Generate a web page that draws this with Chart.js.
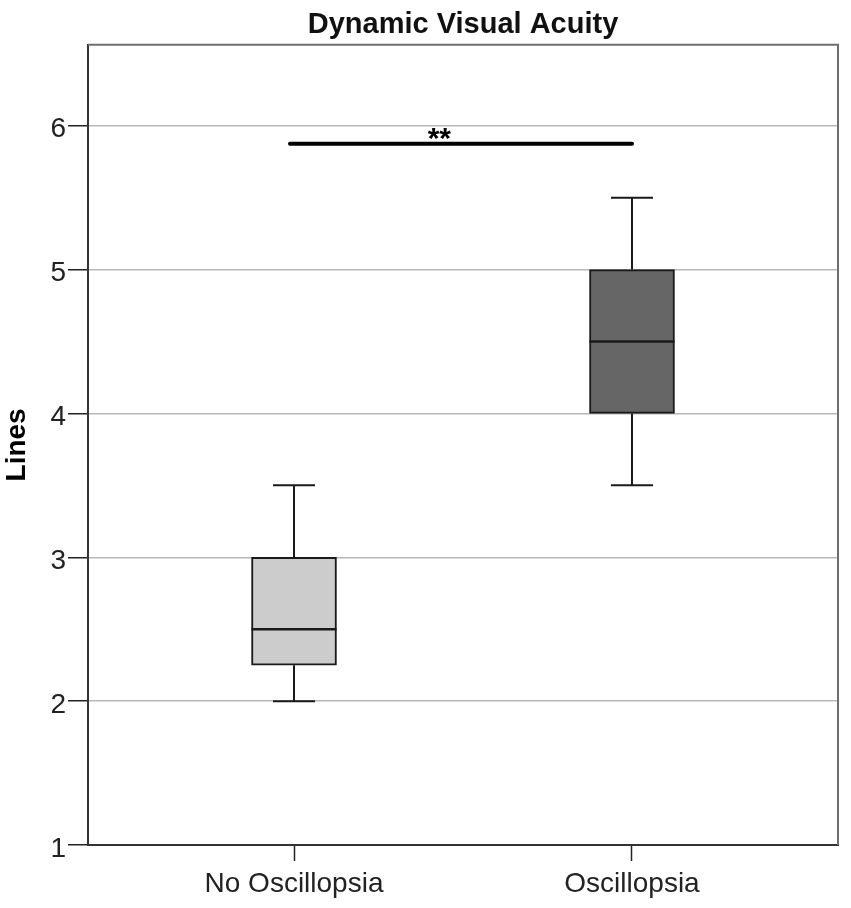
<!DOCTYPE html>
<html>
<head>
<meta charset="utf-8">
<title>Dynamic Visual Acuity</title>
<script src="https://cdn.jsdelivr.net/npm/chart.js@4"></script>
<style>
  body { margin: 0; background: #fff; }
  #wrap { width: 851px; height: 908px; }
</style>
</head>
<body>
<div id="wrap"><canvas id="boxChart"></canvas></div>
<script>
// Box plot values
const groups = ['No Oscillopsia', 'Oscillopsia'];
const groupPos = [1, 2];
const whiskerLow = [2, 3.5];
const q1 = [2.25, 4];
const median = [2.5, 4.5];
const q3 = [3, 5];
const whiskerHigh = [3.5, 5.5];
const yTicks = [1, 2, 3, 4, 5, 6];

// significance bracket
const sigLevel = 5.875;
const sigLabel = '**';
const sigLabelX = 1.43;

const boxColors = ['#cccccc', '#666666'];
const lineColor = '#1a1a1a';
const fontFamily = "'Liberation Sans', Arial, sans-serif";

// whiskers, medians, bracket and frame drawn from the chart scales
const boxExtras = {
    id: 'boxExtras',
    afterDatasetsDraw(chart) {
        const { ctx, scales: { x, y }, chartArea } = chart;
        const capHalf = 21;
        const boxHalf = 42.5;

        ctx.save();
        ctx.strokeStyle = lineColor;
        ctx.lineWidth = 2;
        groupPos.forEach((pos, i) => {
            const px = x.getPixelForValue(pos);
            const yLo = y.getPixelForValue(whiskerLow[i]);
            const yQ1 = y.getPixelForValue(q1[i]);
            const yQ3 = y.getPixelForValue(q3[i]);
            const yHi = y.getPixelForValue(whiskerHigh[i]);
            const yMed = y.getPixelForValue(median[i]);

            ctx.beginPath();
            ctx.moveTo(px, yQ3);
            ctx.lineTo(px, yHi);
            ctx.moveTo(px - capHalf, yHi);
            ctx.lineTo(px + capHalf, yHi);
            ctx.moveTo(px, yQ1);
            ctx.lineTo(px, yLo);
            ctx.moveTo(px - capHalf, yLo);
            ctx.lineTo(px + capHalf, yLo);
            ctx.stroke();

            ctx.lineWidth = 2.5;
            ctx.beginPath();
            ctx.moveTo(px - boxHalf, yMed);
            ctx.lineTo(px + boxHalf, yMed);
            ctx.stroke();
            ctx.lineWidth = 2;
        });

        // significance bar
        const ySig = y.getPixelForValue(sigLevel);
        ctx.lineWidth = 4;
        ctx.lineCap = 'round';
        ctx.strokeStyle = '#000';
        ctx.beginPath();
        ctx.moveTo(x.getPixelForValue(groupPos[0]) - 4, ySig);
        ctx.lineTo(x.getPixelForValue(groupPos[1]), ySig);
        ctx.stroke();

        ctx.fillStyle = '#000';
        ctx.font = 'bold 30px ' + fontFamily;
        ctx.textAlign = 'center';
        ctx.textBaseline = 'alphabetic';
        ctx.fillText(sigLabel, x.getPixelForValue(sigLabelX), ySig + 4);

        // top and right frame
        ctx.lineCap = 'butt';
        ctx.strokeStyle = '#6e6e6e';
        ctx.lineWidth = 2;
        ctx.beginPath();
        ctx.moveTo(chartArea.left, chartArea.top);
        ctx.lineTo(chartArea.right, chartArea.top);
        ctx.lineTo(chartArea.right, chartArea.bottom);
        ctx.stroke();
        ctx.restore();
    }
};

document.addEventListener('DOMContentLoaded', () => {
    const ctx = document.getElementById('boxChart');

    new Chart(ctx, {
        type: 'bar',
        data: {
            datasets: [{
                label: 'Interquartile range',
                data: groupPos.map((pos, i) => ({ x: pos, y: [q1[i], q3[i]] })),
                backgroundColor: boxColors,
                borderColor: lineColor,
                borderWidth: 2,
                borderSkipped: false,
                barThickness: 85
            }]
        },
        options: {
            responsive: true,
            maintainAspectRatio: false,
            animation: false,
            layout: {
                padding: { left: 0, right: 13, top: 0, bottom: 0 }
            },
            plugins: {
                legend: { display: false },
                tooltip: { enabled: false },
                title: {
                    display: true,
                    fullSize: false,
                    text: 'Dynamic Visual Acuity',
                    color: '#111',
                    font: { family: fontFamily, size: 29, weight: 'bold' },
                    padding: { top: 8, bottom: 2 }
                }
            },
            scales: {
                x: {
                    type: 'linear',
                    offset: false,
                    min: 0.3905,
                    max: 2.6095,
                    afterBuildTicks: (scale) => {
                        scale.ticks = groupPos.map(v => ({ value: v }));
                    },
                    afterFit: (scale) => { scale.height = 63; },
                    border: { color: '#333', width: 2 },
                    grid: {
                        offset: false,
                        drawOnChartArea: false,
                        tickLength: 16,
                        tickColor: '#222',
                        tickWidth: 1.5
                    },
                    ticks: {
                        autoSkip: false,
                        maxRotation: 0,
                        padding: 6,
                        color: '#222',
                        font: { family: fontFamily, size: 28 },
                        callback: (value) => groups[groupPos.indexOf(value)]
                    }
                },
                y: {
                    min: 1,
                    max: 6.5625,
                    afterBuildTicks: (scale) => {
                        scale.ticks = yTicks.map(v => ({ value: v }));
                    },
                    afterFit: (scale) => { scale.width = 88; },
                    border: { color: '#333', width: 2 },
                    grid: {
                        color: '#b8b8b8',
                        lineWidth: 1.5,
                        tickLength: 20,
                        tickColor: '#222',
                        tickWidth: 1.5
                    },
                    ticks: {
                        padding: 2,
                        labelOffset: 4,
                        color: '#222',
                        font: { family: fontFamily, size: 28 }
                    },
                    title: {
                        display: true,
                        text: 'Lines',
                        color: '#000',
                        font: { family: fontFamily, size: 28, weight: 'bold' },
                        padding: { top: 0, bottom: 0 }
                    }
                }
            }
        },
        plugins: [boxExtras]
    });
});
</script>
</body>
</html>
